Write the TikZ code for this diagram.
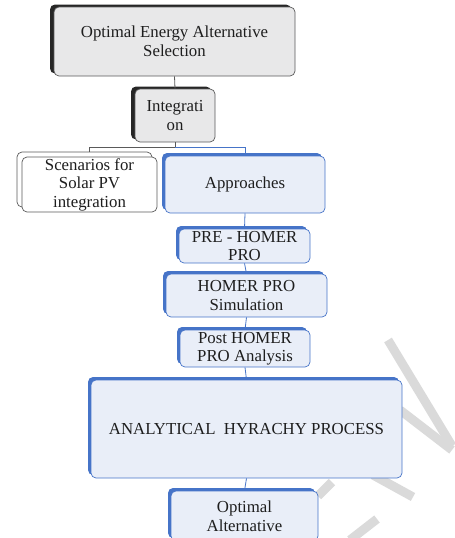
\documentclass[tikz,border=0pt]{standalone}
\usepackage{fontspec}
\setmainfont{Liberation Serif}
\usepackage{xcolor}
\usetikzlibrary{shadows}
\definecolor{text}{HTML}{1E1E1E}
\definecolor{dark}{HTML}{262626}
\definecolor{edge}{HTML}{5A5A5A}
\definecolor{greyfill}{HTML}{E8E8E9}
\definecolor{bluefill}{HTML}{E9EEF8}
\definecolor{blue}{HTML}{4674C8}
\definecolor{wm}{HTML}{DADADA}
\tikzset{
  box/.style={rounded corners=5pt, inner sep=0pt, align=center, text=text,
    font=\fontsize{16.8}{18.5}\selectfont, line width=0.7pt},
  greybox/.style={box, draw=edge, fill=greyfill,
    general shadow={fill=dark, shadow xshift=-4pt, shadow yshift=2.5pt}},
  whitebox/.style={box, draw=edge, fill=white,
    general shadow={draw=edge, fill=white, line width=0.7pt, shadow xshift=-5pt, shadow yshift=5pt}},
  bluebox/.style={box, draw=blue, fill=bluefill,
    general shadow={fill=blue, shadow xshift=-3pt, shadow yshift=3pt}},
  line/.style={draw=edge, line width=0.8pt},
  bline/.style={draw=blue, line width=0.8pt},
  wmark/.style={draw=wm, line width=9pt}
}
\begin{document}
\begin{tikzpicture}[x=1pt, y=-1pt]
  \useasboundingbox (0,0) rectangle (455,538);

  % watermark
  \draw[wmark] (388,340) -- (452,446);
  \draw[wmark] (400,410) -- (452,450);
  \draw[wmark] (373,475) -- (413,497);
  \draw[wmark] (332,482) -- (318,496);
  \draw[wmark] (377,519) -- (350,540);

  \node[greybox, minimum width=241pt, minimum height=69pt] (goal) at (174.5,41.5)
    {Optimal Energy Alternative\\Selection};
  \node[greybox, minimum width=80pt, minimum height=53pt] (integ) at (175,115.5)
    {Integrati\\on};
  \node[whitebox, minimum width=135pt, minimum height=55pt] (scen) at (89.5,184.5)
    {Scenarios for\\Solar PV\\integration};
  \node[bluebox, minimum width=160pt, minimum height=57pt] (appr) at (245,184.5)
    {Approaches};
  \node[bluebox, minimum width=131pt, minimum height=34pt] (pre) at (244.5,246)
    {PRE - HOMER\\PRO};
  \node[bluebox, minimum width=161pt, minimum height=43pt] (sim) at (246.5,295.5)
    {HOMER PRO\\Simulation};
  \node[bluebox, minimum width=130pt, minimum height=37pt] (post) at (245,348.5)
    {Post HOMER\\PRO Analysis};
  \node[bluebox, minimum width=311pt, minimum height=98pt] (ahp) at (246.5,429)
    {ANALYTICAL\ \ HYRACHY PROCESS};
  \node[bluebox, minimum width=147pt, minimum height=50pt] (opt) at (244.5,516)
    {Optimal\\Alternative};

  \coordinate (split) at ([yshift=-5pt]integ.south);

  \draw[line] (goal.south) -- (integ.north);
  \draw[line] (integ.south) -- (split);
  \draw[line] (split) -| ([yshift=5pt]scen.north);
  \draw[bline] (split) -| (appr.north);
  \draw[bline] (appr.south) -- (pre.north);
  \draw[bline] (pre.south) -- (sim.north);
  \draw[bline] (sim.south) -- (post.north);
  \draw[bline] (post.south) -- (ahp.north);
  \draw[bline] (ahp.south) -- (opt.north);
\end{tikzpicture}
\end{document}
